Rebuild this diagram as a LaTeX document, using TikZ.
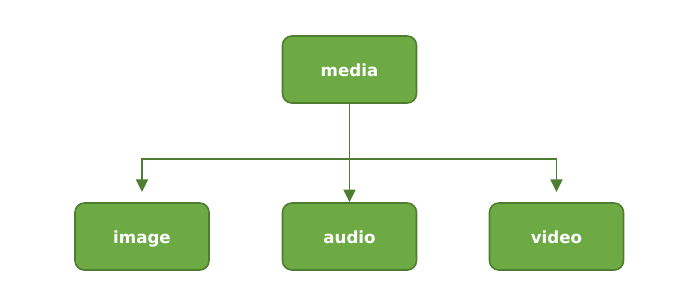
\documentclass[tikz,border=0pt]{standalone}
\usepackage{fontspec}
\setmainfont{DejaVu Sans}
\usetikzlibrary{arrows.meta}
\definecolor{boxfill}{HTML}{6DAA44}
\definecolor{boxline}{HTML}{4E7C30}
\begin{document}
\begin{tikzpicture}[x=0.75pt,y=-0.75pt,
  box/.style={draw=boxline,fill=boxfill,line width=1.2pt,rounded corners=7pt,
    minimum width=134*0.75pt,minimum height=67*0.75pt,inner sep=0pt,
    text height=13.5pt,text depth=2.5pt,
    text=white,font=\bfseries\fontsize{12.5pt}{14pt}\selectfont},
  conn/.style={draw=boxline,line width=1.3pt,-{Triangle[length=9.5pt,width=9pt]}}]
\useasboundingbox (0,0) rectangle (700,300);
\node[box] (media) at (349.5,69.5) {media};
\node[box] (image) at (142,236.5) {image};
\node[box] (audio) at (349.5,236.5) {audio};
\node[box] (video) at (556.5,236.5) {video};
\coordinate (j) at (349.5,159);
\coordinate (ie) at (142,192);
\coordinate (ve) at (556.5,192);
\draw[conn] (media.south) -- (audio.north);
\draw[conn] (j) -| (ie);
\draw[conn] (j) -| (ve);
\end{tikzpicture}
\end{document}
